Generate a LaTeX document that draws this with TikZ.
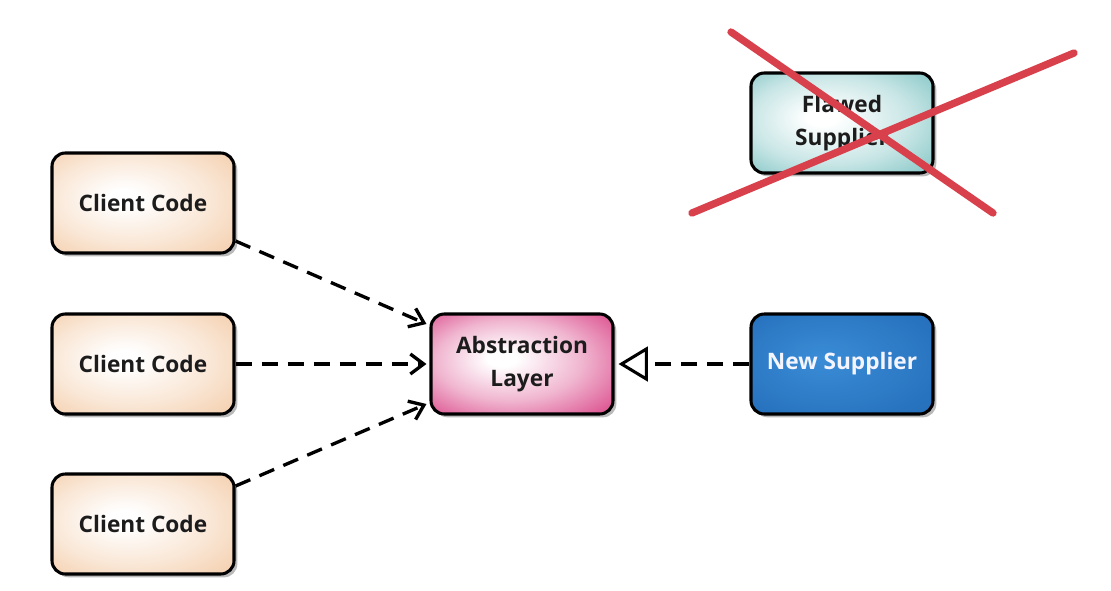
\documentclass[tikz,border=0pt]{standalone}
\usepackage{fontspec}
\setmainfont{Open Sans}
\usetikzlibrary{shadows,arrows.meta,calc}
\definecolor{peach}{HTML}{F5D3B4}
\definecolor{pinkc}{HTML}{DE5C96}
\definecolor{bluec}{HTML}{2670BC}
\definecolor{bluelt}{HTML}{3A8CD6}
\definecolor{tealc}{HTML}{92CCCC}
\definecolor{redx}{HTML}{D8404C}
\definecolor{txt}{HTML}{1C1C1C}
\pgfdeclareradialshading{softpeach}{\pgfpoint{-6bp}{3bp}}{color(0bp)=(white); color(4bp)=(white); color(22bp)=(peach!55!white); color(34bp)=(peach); color(50bp)=(peach)}
\pgfdeclareradialshading{softpink}{\pgfpoint{-6bp}{3bp}}{color(0bp)=(white); color(4bp)=(white); color(20bp)=(pinkc!45!white); color(34bp)=(pinkc); color(50bp)=(pinkc)}
\pgfdeclareradialshading{softblue}{\pgfpoint{-6bp}{3bp}}{color(0bp)=(bluelt); color(34bp)=(bluec); color(50bp)=(bluec)}
\pgfdeclareradialshading{softteal}{\pgfpoint{-6bp}{3bp}}{color(0bp)=(white); color(4bp)=(white); color(22bp)=(tealc!50!white); color(34bp)=(tealc); color(50bp)=(tealc)}
\tikzset{
  box/.style={draw=black, line width=2.3pt, rounded corners=10pt,
    minimum width=136.5pt, minimum height=75pt, align=center,
    font=\bfseries\fontsize{17}{25}\selectfont, text=txt,
    drop shadow={shadow xshift=2.5pt, shadow yshift=-2.5pt, fill=black!45, opacity=0.6}},
  client/.style={box, shading=softpeach},
  abstr/.style={box, shading=softpink},
  newsup/.style={box, shading=softblue, text=blue!4!white},
  flawed/.style={box, shading=softteal},
  dep/.style={line width=2.5pt, dash pattern=on 12pt off 7.5pt, -{Straight Barb[length=10pt,width=15pt,line width=2.5pt]}},
  impl/.style={line width=2.5pt, dash pattern=on 12pt off 7.5pt, -{Triangle[open,length=22pt,width=26pt,line width=2.3pt,fill=white]}},
  cross/.style={redx, line width=5.5pt, line cap=round}
}
\begin{document}
\begin{tikzpicture}[x=0.75pt,y=-0.75pt]
\useasboundingbox (0,0) rectangle (1111,590);
\node[client] (c1) at (143,203) {Client Code};
\node[client] (c2) at (143,364) {Client Code};
\node[client] (c3) at (143,524) {Client Code};
\node[abstr] (ab) at (522,364) {Abstraction\\Layer};
\node[newsup] (ns) at (842,364) {New Supplier};
\node[flawed] (fs) at (842,123) {Flawed\\Supplier};
\coordinate (x1) at (731,32);
\coordinate (x2) at (993,213);
\coordinate (x3) at (692,213);
\coordinate (x4) at (1074,53);
\draw[dep] ($(c1.east)+(0,38)$) -- ($(ab.west)+(-3,-40)$);
\draw[dep] (c2.east) -- ($(ab.west)+(-3,0)$);
\draw[dep] ($(c3.east)+(0,-38)$) -- ($(ab.west)+(-3,40)$);
\draw[impl] (ns.west) -- ($(ab.east)+(4,0)$);
\draw[cross] (x1) -- (x2);
\draw[cross] (x3) -- (x4);
\end{tikzpicture}
\end{document}
